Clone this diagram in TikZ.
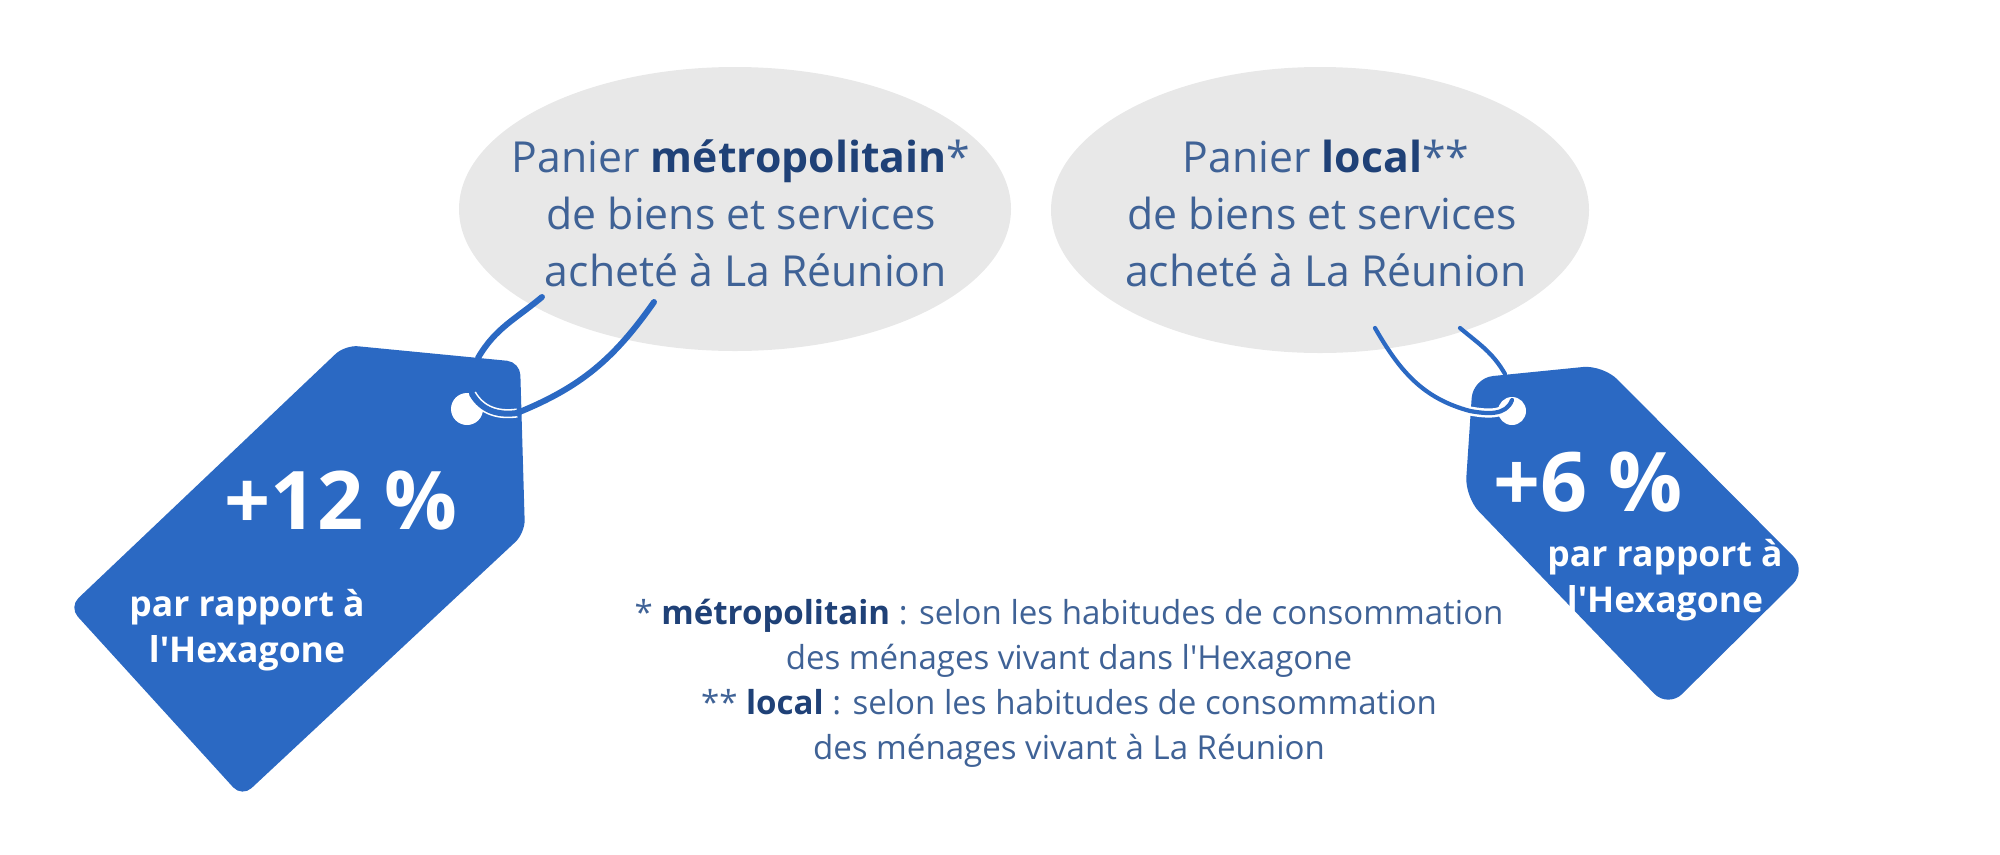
\documentclass[tikz,border=0pt]{standalone}
\usepackage{fontspec}
\setmainfont{Open Sans}
\usepackage{xcolor}
\definecolor{tagcol}{HTML}{2B69C3}
\definecolor{bubblecol}{HTML}{E8E8E8}
\definecolor{textcol}{HTML}{3F6296}
\definecolor{boldcol}{HTML}{1F4177}
\tikzstyle{tag}=[fill=tagcol,rounded corners=0.2cm]
\tikzstyle{bubble}=[fill=bubblecol]
\tikzstyle{ring}=[draw=tagcol,line cap=round]
\tikzstyle{halo}=[draw=white,line width=2.6pt]
\tikzstyle{basket}=[textcol,align=center,font=\fontsize{12.15}{16.2}\selectfont]
\tikzstyle{note}=[textcol,align=center,font=\fontsize{9.4}{12.8}\selectfont]
\tikzstyle{percent}=[white,font=\fontsize{23}{28}\selectfont\bfseries]
\tikzstyle{versus}=[white,align=center,font=\fontsize{10.1}{12.9}\selectfont\bfseries]
\newcommand{\hl}[1]{\textcolor{boldcol}{\textbf{#1}}}

\begin{document}
\begin{tikzpicture}[x=0.01cm,y=-0.01cm]
  \useasboundingbox (0,0) rectangle (2000,854);
  \coordinate (A1) at (345,345); % LEFT TAG
  \coordinate (A2) at (520,362);
  \coordinate (A3) at (525,533);
  \coordinate (A4) at (242,797);
  \coordinate (A5) at (69,607);
  \coordinate (AH) at (467,409); % hole
  \coordinate (B1) at (1473,378); % RIGHT TAG
  \coordinate (B2) at (1603,365);
  \coordinate (B3) at (1807,570);
  \coordinate (B4) at (1668,708);
  \coordinate (B5) at (1465,497);
  \coordinate (BH) at (1512,411); % hole

  % BUBBLES
  \fill[bubble] (735,209) ellipse (276 and 142);
  \fill[bubble] (1320,210) ellipse (269 and 143);

  % BACK OF THE STRINGS
  \draw[ring,line width=1.7pt] (542,297) to[out=-140,in=60] (478,358);
  \draw[ring,line width=1.2pt] (1460,328) to[out=-40,in=120] (1505,374);

  % TAGS
  \fill[tag,rounded corners=0.13cm] (A1) -- (A2) -- (A3) -- (A4) -- (A5) -- cycle;
  \fill[tag] (B1) -- (B2) -- (B3) -- (B4) -- (B5) -- cycle;
  \fill[white] (AH) circle (16);
  \fill[white] (BH) circle (14);

  % FRONT OF THE STRINGS
  \draw[halo] (517,413) to[out=-172,in=-60] (472,394);
  \draw[halo] (1470,411) to[out=-10,in=-110] (1512,400);
  \draw[ring,line width=1.7pt] (654,302) to[out=-125,in=22] (517,413) to[out=-172,in=-60] (472,394);
  \draw[ring,line width=1.2pt] (1375,328) to[out=-60,in=165] (1470,411) to[out=-10,in=-110] (1512,400);

  % TEXTS
  \node[basket] (basket1) at (741,213) {Panier \hl{métropolitain}*\\de biens et services\\\hspace*{0.1cm}acheté à La Réunion};
  \node[basket] (basket2) at (1326,213) {Panier \hl{local}**\\\hspace*{-0.08cm}de biens et services\\acheté à La Réunion};
  \node[percent] (pct1) at (341,501) {+12 \%};
  \node[percent,font=\fontsize{23.4}{28}\selectfont\bfseries] (pct2) at (1588,482) {+6 \%};
  \node[versus] (versus1) at (247,630) {par rapport à\\l\textquotesingle Hexagone};
  \node[versus] (versus2) at (1665,580) {par rapport à\\l\textquotesingle Hexagone};
  \node[note] (notes) at (1069,683) {* \hl{métropolitain} : selon les habitudes de consommation\\des ménages vivant dans l\textquotesingle Hexagone\\** \hl{local} : selon les habitudes de consommation\\des ménages vivant à La Réunion};
\end{tikzpicture}
\end{document}
